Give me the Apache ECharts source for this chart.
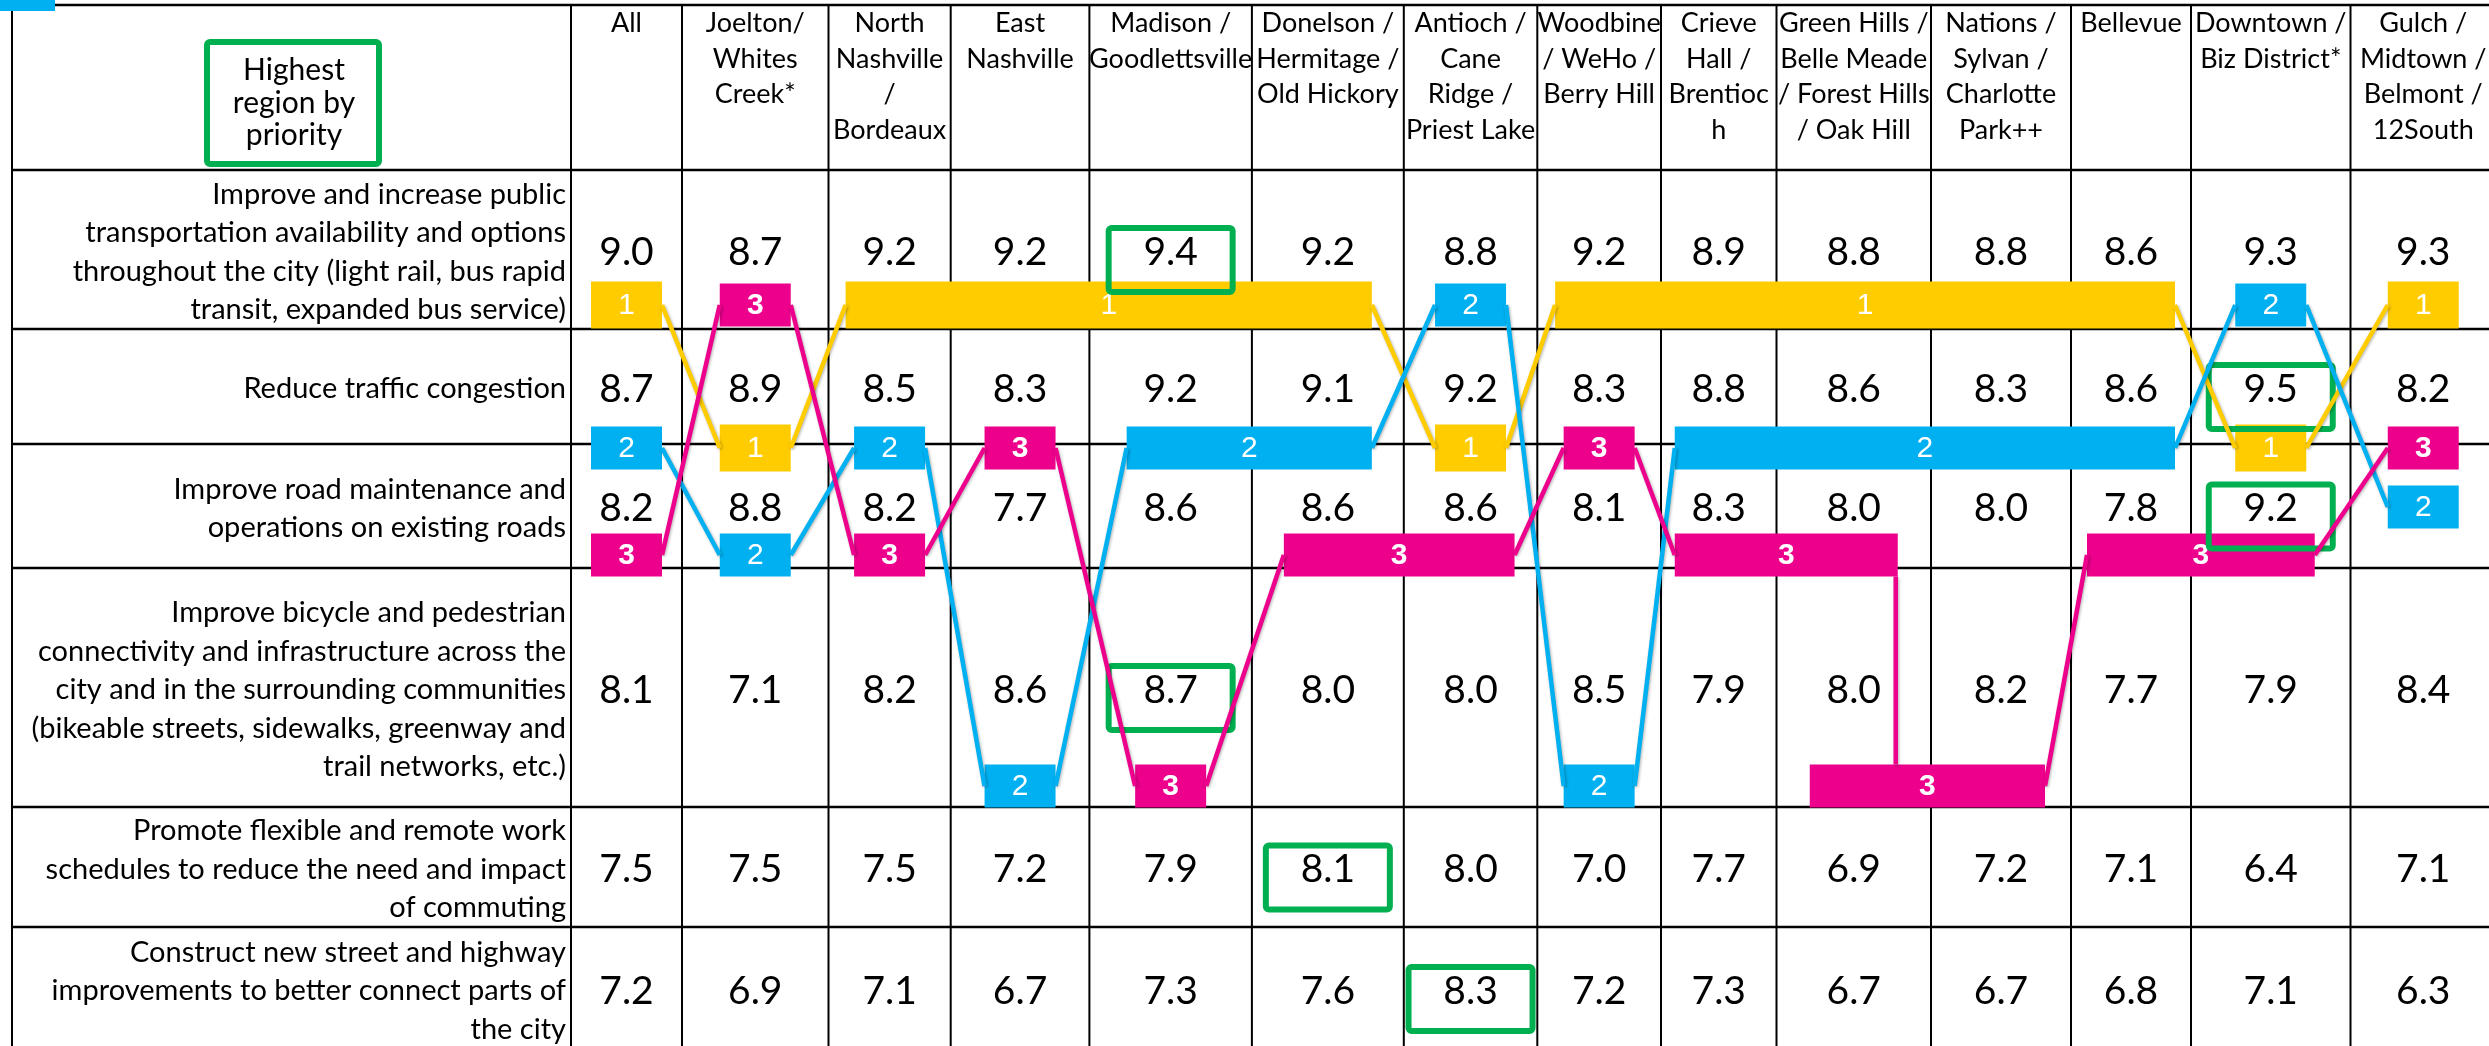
<!DOCTYPE html>
<html>
<head>
<meta charset="utf-8">
<title>Priorities by region</title>
<script src="https://cdn.jsdelivr.net/npm/echarts@6/dist/echarts.min.js"></script>
<style>
    * { margin: 0; padding: 0; }
    html, body { background: #fff; }
    #main { width: 2489px; height: 1046px; }
</style>
</head>
<body>
<div id="main"></div>
<script>
// ---- data ----
var regions = [
    'All',
    'Joelton/\nWhites\nCreek*',
    'North\nNashville\n/\nBordeaux',
    'East\nNashville',
    'Madison /\nGoodlettsville',
    'Donelson /\nHermitage /\nOld Hickory',
    'Antioch /\nCane\nRidge /\nPriest Lake',
    'Woodbine\n/ WeHo /\nBerry Hill',
    'Crieve\nHall /\nBrentioc\nh',
    'Green Hills /\nBelle Meade\n/ Forest Hills\n/ Oak Hill',
    'Nations /\nSylvan /\nCharlotte\nPark++',
    'Bellevue',
    'Downtown /\nBiz District*',
    'Gulch /\nMidtown /\nBelmont /\n12South'
];

var priorities = [
    'Improve and increase public\ntransportation availability and options\nthroughout the city (light rail, bus rapid\ntransit, expanded bus service)',
    'Reduce traffic congestion',
    'Improve road maintenance and\noperations on existing roads',
    'Improve bicycle and pedestrian\nconnectivity and infrastructure across the\ncity and in the surrounding communities\n(bikeable streets, sidewalks, greenway and\ntrail networks, etc.)',
    'Promote flexible and remote work\nschedules to reduce the need and impact\nof commuting',
    'Construct new street and highway\nimprovements to better connect parts of\nthe city'
];

var transitScores    = [9.0, 8.7, 9.2, 9.2, 9.4, 9.2, 8.8, 9.2, 8.9, 8.8, 8.8, 8.6, 9.3, 9.3];
var congestionScores = [8.7, 8.9, 8.5, 8.3, 9.2, 9.1, 9.2, 8.3, 8.8, 8.6, 8.3, 8.6, 9.5, 8.2];
var roadScores       = [8.2, 8.8, 8.2, 7.7, 8.6, 8.6, 8.6, 8.1, 8.3, 8.0, 8.0, 7.8, 9.2, 8.2];
var bikePedScores    = [8.1, 7.1, 8.2, 8.6, 8.7, 8.0, 8.0, 8.5, 7.9, 8.0, 8.2, 7.7, 7.9, 8.4];
var remoteScores     = [7.5, 7.5, 7.5, 7.2, 7.9, 8.1, 8.0, 7.0, 7.7, 6.9, 7.2, 7.1, 6.4, 7.1];
var highwayScores    = [7.2, 6.9, 7.1, 6.7, 7.3, 7.6, 8.3, 7.2, 7.3, 6.7, 6.7, 6.8, 7.1, 6.3];

// priority row (0-based) holding each region's 1st / 2nd / 3rd place, as marked
var rank1Row = [0, 1, 0, 0, 0, 0, 1, 0, 0, 0, 0, 0, 1, 0];
var rank2Row = [1, 2, 1, 3, 1, 1, 0, 3, 1, 1, 1, 1, 0, 2];
var rank3Row = [2, 0, 2, 1, 3, 2, 2, 1, 2, [2, 3], 3, 2, 2, 1];

// ---- layout ----
var colEdges = [12, 571, 682, 828.5, 950.7, 1089.4, 1251.9, 1403.8, 1537.3, 1661, 1776.5, 1931, 2071, 2191, 2350.5, 2496];
var rowEdges = [5, 170, 329, 444, 568, 807, 927, 1050];
var rankBandY = [305, 448, 555, 786, 890, 1000];
var rankYOverride = { '1-13': 507 };
var rankColors = ['#FFCC00', '#00B0F0', '#EC008C'];
var TEXT_FONT = 'Lato, Roboto, sans-serif';
var BOX_FONT = '"Liberation Sans", Arial, sans-serif';

var scores = [transitScores, congestionScores, roadScores, bikePedScores, remoteScores, highwayScores];

function colCenter(c) { return (colEdges[c + 1] + colEdges[c + 2]) / 2; }
function rowMid(r) { return (rowEdges[r + 1] + rowEdges[r + 2]) / 2 + 2.5; }

function buildRuns(rows) {
    var runs = [];
    rows.forEach(function (rr, c) {
        (Array.isArray(rr) ? rr : [rr]).forEach(function (r) {
            var last = runs[runs.length - 1];
            if (last && last.row === r && last.c1 === c - 1) last.c1 = c;
            else runs.push({ row: r, c0: c, c1: c });
        });
    });
    return runs;
}

function runBox(rank, row, c0, c1) {
    var pad = c0 === c1 ? 35.5 : 44;
    var y = rankYOverride[rank + '-' + c0];
    if (y === undefined) y = rankBandY[row];
    var h = rank === 0 ? 47 : 43;
    return { x0: colCenter(c0) - pad, x1: colCenter(c1) + pad, y: y, h: h };
}

var cellData = [];
scores.forEach(function (arr, r) {
    arr.forEach(function (v, c) { cellData.push([c, r, v]); });
});

var ruleData = [];
rowEdges.forEach(function (_, i) { ruleData.push([0, i]); });
colEdges.forEach(function (_, j) { ruleData.push([1, j]); });

var boxData = [];
var linkData = [];
[rank1Row, rank2Row, rank3Row].forEach(function (rows, k) {
    var runs = buildRuns(rows);
    runs.forEach(function (run, i) {
        boxData.push([k, run.row, run.c0, run.c1]);
        if (i > 0) {
            var a = runs[i - 1];
            linkData.push([k, a.row, a.c0, a.c1, run.row, run.c0, run.c1]);
        }
    });
});

var bestData = scores.map(function (arr, r) {
    var best = 1;
    for (var c = 2; c < arr.length; c++) if (arr[c] > arr[best]) best = c;
    return [best, r];
});

var myChart = echarts.init(document.getElementById('main'));

myChart.setOption({
    backgroundColor: '#fff',
    animation: false,
    grid: { left: 0, right: 0, top: 0, bottom: 0 },
    xAxis: { type: 'value', min: 0, max: 2489, show: false },
    yAxis: { type: 'value', min: 0, max: 1046, inverse: true, show: false },
    graphic: [
        { type: 'rect', shape: { x: 0, y: 0, width: 55, height: 11 }, style: { fill: '#00B0F0' }, z: 10 },
        { type: 'rect', shape: { x: 207, y: 42, width: 172, height: 122, r: 3 },
          style: { fill: 'none', stroke: '#00B050', lineWidth: 6 }, z: 10 },
        { type: 'text', x: 294, y: 103,
          style: { text: 'Highest\nregion by\npriority', fill: '#000', fontSize: 30, fontFamily: TEXT_FONT,
                   lineHeight: 32.5, align: 'center', verticalAlign: 'middle' }, z: 10 }
    ],
    series: [
        {
            // table rules
            type: 'custom', coordinateSystem: 'cartesian2d', silent: true, z: 1,
            data: ruleData,
            renderItem: function (params, api) {
                var kind = api.value(0), i = api.value(1), p0, p1;
                if (kind === 0) {
                    p0 = api.coord([colEdges[0], rowEdges[i]]);
                    p1 = api.coord([colEdges[colEdges.length - 1], rowEdges[i]]);
                } else {
                    p0 = api.coord([colEdges[i], rowEdges[0]]);
                    p1 = api.coord([colEdges[i], rowEdges[rowEdges.length - 1]]);
                }
                return { type: 'line', shape: { x1: p0[0], y1: p0[1], x2: p1[0], y2: p1[1] },
                         style: { stroke: '#000', lineWidth: kind === 0 ? 2.5 : 2 } };
            }
        },
        {
            // column headers
            type: 'custom', coordinateSystem: 'cartesian2d', silent: true, z: 2,
            data: regions.map(function (_, c) { return [c]; }),
            renderItem: function (params, api) {
                var c = api.value(0);
                var p = api.coord([colCenter(c), rowEdges[0] + 1]);
                return { type: 'text', x: p[0], y: p[1],
                         style: { text: regions[c], fill: '#000', fontSize: 27, fontFamily: TEXT_FONT,
                                  lineHeight: 35.5, align: 'center', verticalAlign: 'top' } };
            }
        },
        {
            // priority labels
            type: 'custom', coordinateSystem: 'cartesian2d', silent: true, z: 2,
            data: priorities.map(function (_, r) { return [r]; }),
            renderItem: function (params, api) {
                var r = api.value(0);
                var p = api.coord([colEdges[1] - 5, rowMid(r)]);
                return { type: 'text', x: p[0], y: p[1],
                         style: { text: priorities[r], fill: '#000', fontSize: 29, fontFamily: TEXT_FONT,
                                  lineHeight: 38.5, align: 'right', verticalAlign: 'middle' } };
            }
        },
        {
            // score cells
            type: 'custom', coordinateSystem: 'cartesian2d', silent: true, z: 2,
            data: cellData,
            renderItem: function (params, api) {
                var p = api.coord([colCenter(api.value(0)), rowMid(api.value(1))]);
                return { type: 'text', x: p[0], y: p[1],
                         style: { text: api.value(2).toFixed(1), fill: '#000', fontSize: 39, fontFamily: TEXT_FONT,
                                  align: 'center', verticalAlign: 'middle' } };
            }
        },
        {
            // rank boxes / bars
            type: 'custom', coordinateSystem: 'cartesian2d', silent: true, z: 3,
            data: boxData,
            renderItem: function (params, api) {
                var k = api.value(0);
                var b = runBox(k, api.value(1), api.value(2), api.value(3));
                var p0 = api.coord([b.x0, b.y - b.h / 2]);
                var p1 = api.coord([b.x1, b.y + b.h / 2]);
                return { type: 'group', children: [
                    { type: 'rect', shape: { x: p0[0], y: p0[1], width: p1[0] - p0[0], height: p1[1] - p0[1] },
                      style: { fill: rankColors[k] } },
                    { type: 'text', x: (p0[0] + p1[0]) / 2, y: (p0[1] + p1[1]) / 2 + 1,
                      style: { text: String(k + 1), fill: '#fff', fontSize: 30, fontFamily: BOX_FONT,
                               fontWeight: k === 2 ? 'bold' : 'normal', align: 'center', verticalAlign: 'middle' } }
                ] };
            }
        },
        {
            // highest region per priority
            type: 'custom', coordinateSystem: 'cartesian2d', silent: true, z: 4,
            data: bestData,
            renderItem: function (params, api) {
                var cx = colCenter(api.value(0)), cy = rowMid(api.value(1)) + 8;
                var p0 = api.coord([cx - 62, cy - 32]);
                var p1 = api.coord([cx + 62, cy + 32]);
                return { type: 'rect', shape: { x: p0[0], y: p0[1], width: p1[0] - p0[0], height: p1[1] - p0[1], r: 3 },
                         style: { fill: 'none', stroke: '#00B050', lineWidth: 6 } };
            }
        },
        {
            // connectors between rank boxes
            type: 'custom', coordinateSystem: 'cartesian2d', silent: true, z: 5,
            data: linkData,
            renderItem: function (params, api) {
                var k = api.value(0);
                var a = runBox(k, api.value(1), api.value(2), api.value(3));
                var b = runBox(k, api.value(4), api.value(5), api.value(6));
                var s, e;
                if (api.value(3) === api.value(5)) {
                    var x = a.x1 - 2;
                    var down = b.y > a.y;
                    s = api.coord([x, down ? a.y + a.h / 2 : a.y - a.h / 2]);
                    e = api.coord([x, down ? b.y - b.h / 2 : b.y + b.h / 2]);
                } else {
                    s = api.coord([a.x1, a.y]);
                    e = api.coord([b.x0, b.y]);
                }
                return { type: 'line', shape: { x1: s[0], y1: s[1], x2: e[0], y2: e[1] },
                         style: { stroke: rankColors[k], lineWidth: 4.5,
                                  shadowBlur: 3, shadowColor: 'rgba(0,0,0,0.3)', shadowOffsetX: 1, shadowOffsetY: 1 } };
            }
        }
    ]
});
</script>
</body>
</html>
